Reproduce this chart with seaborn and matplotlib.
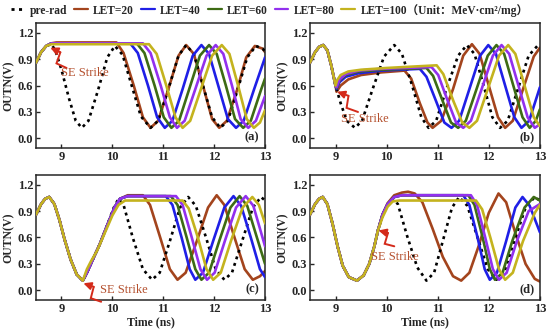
import matplotlib
matplotlib.use("Agg")
import matplotlib.pyplot as plt
from matplotlib.lines import Line2D
import seaborn as sns

# ---------------- data (time in ns, OUTN in V) ----------------
# panel (a)
a_pre_t = [8.5, 8.6, 8.7, 8.8, 8.88, 9.0, 9.15, 9.28, 9.4, 9.53, 9.72, 9.9, 10.05, 10.2, 10.38, 10.56, 10.75,
           10.9, 11.1, 11.3, 11.45, 11.6, 11.78, 11.96, 12.12, 12.27, 12.46, 12.65, 12.82, 12.95, 13.0]
a_pre_v = [0.86, 0.98, 1.05, 1.07, 1.0, 0.78, 0.45, 0.2, 0.12, 0.2, 0.55, 0.92, 1.05, 0.95, 0.6, 0.25, 0.12,
           0.2, 0.56, 0.94, 1.06, 0.96, 0.6, 0.24, 0.12, 0.2, 0.55, 0.92, 1.05, 1.02, 0.99]
a20_t = [8.5, 8.6, 8.7, 8.8, 8.9, 10.08, 10.22, 10.42, 10.6, 10.75, 10.9, 11.1, 11.3, 11.45, 11.6, 11.78,
         11.96, 12.1, 12.25, 12.45, 12.63, 12.8, 12.95, 13.0]
a20_v = [0.86, 0.98, 1.05, 1.08, 1.09, 1.09, 0.97, 0.6, 0.24, 0.12, 0.2, 0.56, 0.94, 1.06, 0.96, 0.6,
         0.22, 0.12, 0.2, 0.55, 0.92, 1.05, 1.02, 0.98]
a40_t = [8.5, 8.6, 8.7, 8.8, 8.9, 10.35, 10.5, 10.7, 10.88, 11.03, 11.18, 11.38, 11.58, 11.75, 11.9, 12.08,
         12.27, 12.43, 12.58, 12.78, 13.0]
a40_v = [0.86, 0.98, 1.05, 1.08, 1.08, 1.08, 0.97, 0.6, 0.24, 0.12, 0.2, 0.56, 0.94, 1.06, 0.96, 0.6,
         0.22, 0.12, 0.2, 0.55, 0.92]
a60_t = [8.5, 8.6, 8.7, 8.8, 8.9, 10.48, 10.63, 10.83, 11.01, 11.16, 11.31, 11.51, 11.72, 11.9, 12.05, 12.23,
         12.41, 12.57, 12.72, 12.92, 13.0]
a60_v = [0.86, 0.98, 1.05, 1.08, 1.08, 1.08, 0.97, 0.6, 0.24, 0.12, 0.2, 0.56, 0.94, 1.06, 0.96, 0.6,
         0.22, 0.12, 0.2, 0.55, 0.68]
a80_t = [8.5, 8.6, 8.7, 8.8, 8.9, 10.6, 10.75, 10.95, 11.13, 11.27, 11.42, 11.63, 11.85, 12.03, 12.18, 12.35,
         12.52, 12.67, 12.82, 13.0]
a80_v = [0.86, 0.98, 1.05, 1.08, 1.08, 1.08, 0.97, 0.6, 0.24, 0.12, 0.2, 0.56, 0.94, 1.06, 0.96, 0.6,
         0.22, 0.12, 0.2, 0.48]
a100_t = [8.5, 8.6, 8.7, 8.8, 10.72, 10.87, 11.06, 11.24, 11.38, 11.53, 11.74, 11.96, 12.15, 12.3, 12.47,
          12.64, 12.78, 12.9, 13.0]
a100_v = [0.86, 0.98, 1.05, 1.07, 1.07, 0.96, 0.6, 0.24, 0.12, 0.2, 0.56, 0.94, 1.06, 0.96, 0.6,
          0.22, 0.12, 0.18, 0.32]

# panel (b)
b_pre_t = [8.5, 8.6, 8.68, 8.76, 8.84, 8.92, 9.0, 9.1, 9.22, 9.38, 9.52, 9.72, 9.95, 10.15, 10.3, 10.5, 10.68,
           10.82, 10.97, 11.17, 11.4, 11.57, 11.72, 11.9, 12.07, 12.22, 12.37, 12.57, 12.78, 12.95, 13.0]
b_pre_v = [0.86, 0.98, 1.04, 1.06, 1.0, 0.82, 0.6, 0.4, 0.2, 0.12, 0.2, 0.55, 0.93, 1.06, 0.96, 0.6, 0.24,
           0.12, 0.2, 0.56, 0.94, 1.06, 0.96, 0.6, 0.24, 0.12, 0.2, 0.56, 0.94, 1.05, 1.04]
b20_t = [8.5, 8.6, 8.68, 8.76, 8.84, 8.92, 9.0, 9.02, 9.1, 9.25, 9.5, 9.9, 10.35, 10.48, 10.65, 10.8, 10.9,
         11.07, 11.3, 11.5, 11.67, 11.82, 12.0, 12.18, 12.32, 12.47, 12.67, 12.88, 13.0]
b20_v = [0.86, 0.98, 1.04, 1.06, 1.0, 0.82, 0.6, 0.53, 0.6, 0.67, 0.72, 0.75, 0.77, 0.68, 0.4, 0.18, 0.12,
         0.2, 0.56, 0.94, 1.07, 0.96, 0.6, 0.24, 0.12, 0.2, 0.56, 0.93, 1.03]
b40_t = [8.5, 8.6, 8.68, 8.76, 8.84, 8.92, 9.0, 9.02, 9.08, 9.2, 9.45, 9.9, 10.65, 10.78, 10.97, 11.13, 11.27,
         11.42, 11.62, 11.83, 11.99, 12.14, 12.32, 12.5, 12.64, 12.79, 13.0]
b40_v = [0.86, 0.98, 1.04, 1.06, 1.0, 0.82, 0.6, 0.56, 0.64, 0.7, 0.74, 0.77, 0.79, 0.7, 0.42, 0.18, 0.12,
         0.2, 0.56, 0.94, 1.06, 0.96, 0.6, 0.24, 0.12, 0.2, 0.58]
b60_t = [8.5, 8.6, 8.68, 8.76, 8.84, 8.92, 9.0, 9.02, 9.08, 9.2, 9.45, 9.9, 10.78, 10.91, 11.1, 11.26, 11.4,
         11.55, 11.76, 11.98, 12.15, 12.3, 12.48, 12.66, 12.8, 12.92, 13.0]
b60_v = [0.86, 0.98, 1.04, 1.06, 1.0, 0.82, 0.6, 0.57, 0.66, 0.72, 0.76, 0.78, 0.8, 0.71, 0.42, 0.18, 0.12,
         0.2, 0.56, 0.94, 1.06, 0.96, 0.6, 0.24, 0.12, 0.2, 0.33]
b80_t = [8.5, 8.6, 8.68, 8.76, 8.84, 8.92, 9.0, 9.02, 9.08, 9.2, 9.45, 9.9, 10.88, 11.01, 11.2, 11.36, 11.5,
         11.65, 11.86, 12.08, 12.25, 12.4, 12.58, 12.76, 12.9, 13.0]
b80_v = [0.86, 0.98, 1.04, 1.06, 1.0, 0.82, 0.6, 0.58, 0.67, 0.73, 0.77, 0.79, 0.81, 0.72, 0.42, 0.18, 0.12,
         0.2, 0.56, 0.94, 1.06, 0.96, 0.6, 0.24, 0.12, 0.16]
b100_t = [8.5, 8.6, 8.68, 8.76, 8.84, 8.92, 9.0, 9.03, 9.1, 9.25, 9.5, 10.0, 10.98, 11.11, 11.31, 11.48,
          11.62, 11.77, 11.98, 12.2, 12.38, 12.52, 12.7, 12.88, 13.0]
b100_v = [0.86, 0.98, 1.04, 1.06, 1.0, 0.82, 0.6, 0.66, 0.72, 0.76, 0.78, 0.8, 0.83, 0.73, 0.42, 0.18,
          0.12, 0.2, 0.56, 0.94, 1.06, 0.96, 0.6, 0.24, 0.14]

# panel (c)
c_pre_t = [8.5, 8.6, 8.68, 8.76, 8.86, 8.96, 9.06, 9.18, 9.3, 9.42, 9.5, 9.6, 9.75, 9.9, 10.02, 10.12, 10.22,
           10.4, 10.6, 10.78, 10.93, 11.13, 11.33, 11.49, 11.64, 11.84, 12.03, 12.2, 12.35, 12.55, 12.76, 12.92, 13.0]
c_pre_v = [0.86, 0.98, 1.04, 1.06, 0.98, 0.8, 0.58, 0.35, 0.18, 0.11, 0.2, 0.33, 0.52, 0.74, 0.93, 1.04, 0.97,
           0.6, 0.24, 0.12, 0.2, 0.56, 0.94, 1.06, 0.96, 0.6, 0.24, 0.12, 0.2, 0.56, 0.94, 1.06, 1.02]
c20_t = [8.5, 8.6, 8.68, 8.76, 8.86, 8.96, 9.06, 9.18, 9.3, 9.42, 9.5, 9.6, 9.75, 9.9, 10.05, 10.15, 10.3,
         10.6, 10.74, 10.94, 11.13, 11.28, 11.44, 11.66, 11.88, 12.05, 12.2, 12.4, 12.6, 12.76, 12.9, 13.0]
c20_v = [0.86, 0.98, 1.04, 1.06, 0.98, 0.8, 0.58, 0.35, 0.18, 0.11, 0.2, 0.33, 0.52, 0.74, 0.95, 1.04, 1.08,
         1.08, 0.97, 0.6, 0.24, 0.12, 0.2, 0.56, 0.94, 1.08, 0.97, 0.6, 0.24, 0.12, 0.16, 0.22]
c40_t = [8.5, 8.6, 8.68, 8.76, 8.86, 8.96, 9.06, 9.18, 9.3, 9.42, 9.5, 9.6, 9.75, 9.9, 10.05, 10.15, 10.3,
         11.05, 11.18, 11.36, 11.52, 11.63, 11.78, 11.98, 12.2, 12.38, 12.53, 12.72, 12.9, 13.0]
c40_v = [0.86, 0.98, 1.04, 1.06, 0.98, 0.8, 0.58, 0.35, 0.18, 0.11, 0.2, 0.33, 0.52, 0.74, 0.95, 1.04, 1.07,
         1.07, 0.97, 0.6, 0.24, 0.12, 0.2, 0.56, 0.94, 1.07, 0.96, 0.6, 0.24, 0.15]
c60_t = [8.5, 8.6, 8.68, 8.76, 8.86, 8.96, 9.06, 9.18, 9.3, 9.42, 9.5, 9.6, 9.75, 9.9, 10.05, 10.15, 10.3,
         11.15, 11.28, 11.46, 11.63, 11.75, 11.9, 12.1, 12.32, 12.5, 12.65, 12.84, 13.0]
c60_v = [0.86, 0.98, 1.04, 1.06, 0.98, 0.8, 0.58, 0.35, 0.18, 0.11, 0.2, 0.33, 0.52, 0.74, 0.95, 1.04, 1.07,
         1.07, 0.97, 0.6, 0.24, 0.12, 0.2, 0.56, 0.94, 1.07, 0.96, 0.6, 0.3]
c80_t = [8.5, 8.6, 8.68, 8.76, 8.86, 8.96, 9.06, 9.18, 9.3, 9.42, 9.5, 9.6, 9.75, 9.9, 10.05, 10.15, 10.3,
         11.25, 11.38, 11.56, 11.73, 11.86, 12.01, 12.21, 12.43, 12.62, 12.77, 12.95, 13.0]
c80_v = [0.86, 0.98, 1.04, 1.06, 0.98, 0.8, 0.58, 0.35, 0.18, 0.11, 0.2, 0.33, 0.52, 0.74, 0.95, 1.04, 1.07,
         1.07, 0.97, 0.6, 0.24, 0.12, 0.2, 0.56, 0.94, 1.07, 0.96, 0.6, 0.5]
c100_t = [8.5, 8.6, 8.68, 8.76, 8.86, 8.96, 9.06, 9.18, 9.3, 9.42, 9.5, 9.58, 9.7, 9.85, 10.0, 10.12, 10.25,
          11.38, 11.5, 11.68, 11.85, 11.98, 12.13, 12.33, 12.56, 12.75, 12.88, 13.0]
c100_v = [0.86, 0.98, 1.04, 1.06, 0.98, 0.8, 0.58, 0.35, 0.18, 0.11, 0.24, 0.33, 0.45, 0.65, 0.85, 0.97, 1.02,
          1.02, 0.93, 0.6, 0.24, 0.12, 0.2, 0.56, 0.94, 1.06, 0.97, 0.76]

# panel (d)
d_pre_t = [8.5, 8.6, 8.68, 8.75, 8.84, 8.94, 9.04, 9.14, 9.26, 9.42, 9.55, 9.66, 9.76, 9.83, 9.92, 10.02,
           10.12, 10.22, 10.4, 10.6, 10.78, 10.93, 11.1, 11.28, 11.42, 11.58, 11.78, 11.98, 12.15, 12.3,
           12.5, 12.72, 12.9, 13.0]
d_pre_v = [0.86, 0.98, 1.04, 1.06, 0.98, 0.76, 0.5, 0.28, 0.15, 0.11, 0.17, 0.3, 0.5, 0.68, 0.85, 0.97,
           1.04, 0.98, 0.62, 0.26, 0.11, 0.2, 0.56, 0.94, 1.06, 0.96, 0.6, 0.24, 0.12, 0.2,
           0.56, 0.94, 1.06, 1.02]
d20_t = [8.5, 8.6, 8.68, 8.75, 8.84, 8.94, 9.04, 9.14, 9.26, 9.42, 9.55, 9.66, 9.76, 9.83, 9.92, 10.02,
         10.15, 10.3, 10.42, 10.55, 10.7, 10.9, 11.1, 11.3, 11.46, 11.62, 11.8, 12.0, 12.19, 12.34, 12.52,
         12.72, 12.9, 13.0]
d20_v = [0.86, 0.98, 1.04, 1.06, 0.98, 0.76, 0.5, 0.28, 0.15, 0.11, 0.17, 0.3, 0.5, 0.68, 0.86, 0.99,
         1.08, 1.11, 1.12, 1.1, 1.0, 0.7, 0.38, 0.16, 0.11, 0.2, 0.5, 0.88, 1.1, 1.0, 0.65,
         0.3, 0.13, 0.1]
d40_t = [8.5, 8.6, 8.68, 8.75, 8.84, 8.94, 9.04, 9.14, 9.26, 9.42, 9.55, 9.66, 9.76, 9.83, 9.92, 10.02,
         10.15, 10.3, 11.5, 11.62, 11.78, 11.92, 12.02, 12.16, 12.34, 12.52, 12.66, 12.8, 13.0]
d40_v = [0.86, 0.98, 1.04, 1.06, 0.98, 0.76, 0.5, 0.28, 0.15, 0.11, 0.17, 0.3, 0.5, 0.68, 0.86, 0.98,
         1.06, 1.08, 1.08, 0.97, 0.6, 0.24, 0.12, 0.2, 0.56, 0.94, 1.06, 0.96, 0.66]
d60_t = [8.5, 8.6, 8.68, 8.75, 8.84, 8.94, 9.04, 9.14, 9.26, 9.42, 9.55, 9.66, 9.76, 9.83, 9.92, 10.02,
         10.15, 10.3, 11.6, 11.72, 11.88, 12.02, 12.12, 12.27, 12.46, 12.7, 12.88, 13.0]
d60_v = [0.86, 0.98, 1.04, 1.06, 0.98, 0.76, 0.5, 0.28, 0.15, 0.11, 0.17, 0.3, 0.5, 0.68, 0.86, 0.98,
         1.06, 1.08, 1.08, 0.97, 0.6, 0.24, 0.12, 0.2, 0.56, 0.94, 1.06, 1.02]
d80_t = [8.5, 8.6, 8.68, 8.75, 8.84, 8.94, 9.04, 9.14, 9.26, 9.42, 9.55, 9.66, 9.76, 9.83, 9.92, 10.02,
         10.15, 10.3, 11.65, 11.77, 11.93, 12.08, 12.2, 12.35, 12.55, 12.78, 13.0]
d80_v = [0.86, 0.98, 1.04, 1.06, 0.98, 0.76, 0.5, 0.28, 0.15, 0.11, 0.17, 0.3, 0.5, 0.68, 0.86, 0.98,
         1.06, 1.08, 1.08, 0.97, 0.6, 0.24, 0.12, 0.2, 0.56, 0.9, 0.98]
d100_t = [8.5, 8.6, 8.68, 8.75, 8.84, 8.94, 9.04, 9.14, 9.26, 9.42, 9.55, 9.66, 9.76, 9.83, 9.92, 10.02,
          10.12, 10.25, 11.75, 11.87, 12.03, 12.2, 12.32, 12.47, 12.67, 12.9, 13.0]
d100_v = [0.86, 0.98, 1.04, 1.06, 0.98, 0.76, 0.5, 0.28, 0.15, 0.11, 0.17, 0.3, 0.5, 0.68, 0.83, 0.95,
          1.01, 1.02, 1.02, 0.92, 0.6, 0.24, 0.12, 0.2, 0.56, 0.88, 0.97]

series_labels = ["pre-rad", "LET=20", "LET=40", "LET=60", "LET=80", "LET=100（Unit：MeV·cm²/mg）"]
series_colors = ["black", "#a3441d", "#1f1fe6", "#3d6b14", "#9230ee", "#c4b31e"]
panel_names = ["(a)", "(b)", "(c)", "(d)"]

panels = [
    [(a_pre_t, a_pre_v), (a20_t, a20_v), (a40_t, a40_v), (a60_t, a60_v), (a80_t, a80_v), (a100_t, a100_v)],
    [(b_pre_t, b_pre_v), (b20_t, b20_v), (b40_t, b40_v), (b60_t, b60_v), (b80_t, b80_v), (b100_t, b100_v)],
    [(c_pre_t, c_pre_v), (c20_t, c20_v), (c40_t, c40_v), (c60_t, c60_v), (c80_t, c80_v), (c100_t, c100_v)],
    [(d_pre_t, d_pre_v), (d20_t, d20_v), (d40_t, d40_v), (d60_t, d60_v), (d80_t, d80_v), (d100_t, d100_v)],
]

# SE strike annotation: arrow head, bolt tail, text position (data coords)
strike_head = [(8.78, 1.03), (9.03, 0.53), (9.43, 0.08), (9.84, 0.68)]
strike_tail = [(9.1, 0.8), (9.44, 0.3), (9.78, -0.13), (10.15, 0.5)]
strike_text = [(9.0, 0.74), (9.1, 0.22), (9.75, 0.0), (9.7, 0.38)]

# ---------------- style ----------------
sns.set_style("ticks")
plt.rcParams["font.family"] = ["Liberation Serif", "Noto Sans CJK SC"]
plt.rcParams["font.weight"] = "bold"
plt.rcParams["axes.labelweight"] = "bold"
plt.rcParams["axes.linewidth"] = 1.1

fig = plt.figure(figsize=(5.5, 3.32), dpi=100)
boxes = [[0.0655, 0.554, 0.4164, 0.3765], [0.5636, 0.554, 0.418, 0.3765],
         [0.0655, 0.0964, 0.4164, 0.3765], [0.5636, 0.0964, 0.418, 0.3765]]
zorders = [3, 2, 4, 5, 6, 7]


def draw_strike(ax, head, tail):
    # zigzag "lightning" from tail to an arrow head
    hx, hy = ax.transData.transform(head)
    tx, ty = ax.transData.transform(tail)
    dx, dy = tx - hx, ty - hy
    L = (dx ** 2 + dy ** 2) ** 0.5
    nx, ny = -dy / L, dx / L
    amp = 5.0
    p1 = (hx + 0.38 * dx + amp * nx, hy + 0.38 * dy + amp * ny)
    p2 = (hx + 0.62 * dx - amp * nx, hy + 0.62 * dy - amp * ny)
    inv = ax.transData.inverted()
    q1 = inv.transform(p1)
    q2 = inv.transform(p2)
    ax.plot([q1[0], q2[0], tail[0]], [q1[1], q2[1], tail[1]], color="#d42a1a", lw=1.4,
            clip_on=False, zorder=9, solid_joinstyle="miter")
    ax.annotate("", xy=head, xytext=(q1[0], q1[1]), annotation_clip=False, zorder=9,
                arrowprops=dict(arrowstyle="-|>,head_length=0.45,head_width=0.22", color="#d42a1a",
                                lw=1.4, shrinkA=0, shrinkB=0))


for i, box in enumerate(boxes):
    ax = fig.add_axes(box)
    for j, (t, v) in enumerate(panels[i]):
        if j == 0:
            sns.lineplot(x=t, y=v, ax=ax, sort=False, estimator=None, color=series_colors[j],
                         lw=1.9, zorder=zorders[j]).lines[-1].set_dashes((1.1, 1.5))
        else:
            sns.lineplot(x=t, y=v, ax=ax, sort=False, estimator=None, color=series_colors[j],
                         lw=1.9, zorder=zorders[j])
    ax.set_xlim(8.5, 13)
    ax.set_ylim(-0.11, 1.31)
    ax.set_xticks([9, 10, 11, 12, 13])
    ax.set_yticks([0.0, 0.3, 0.6, 0.9, 1.2])
    ax.set_yticklabels(["0.0", "0.3", "0.6", "0.9", "1.2"])
    ax.tick_params(direction="in", length=3, width=1, labelsize=9, pad=2)
    ax.set_ylabel("OUTN(V)", fontsize=8.5, labelpad=2)
    if i >= 2:
        ax.set_xlabel("Time (ns)", fontsize=8.5, labelpad=1)
    ax.text(0.975, 0.04, panel_names[i], transform=ax.transAxes, ha="right", va="bottom", fontsize=9)
    draw_strike(ax, strike_head[i], strike_tail[i])
    ax.text(strike_text[i][0], strike_text[i][1], "SE Strike", color="#b4502e", fontsize=9,
            fontweight="normal", va="center", ha="left", zorder=10)

handles = []
for j, c in enumerate(series_colors):
    if j == 0:
        handles.append(Line2D([], [], color=c, lw=2, dashes=(1.1, 1.6)))
    else:
        handles.append(Line2D([], [], color=c, lw=1.6))
fig.legend(handles, series_labels, loc="upper center", bbox_to_anchor=(0.49, 1.01), ncol=6,
           frameon=False, fontsize=8.3, handlelength=1.2, handletextpad=0.45, columnspacing=0.6,
           borderaxespad=0.2)

fig.savefig("out.png", dpi=100)
